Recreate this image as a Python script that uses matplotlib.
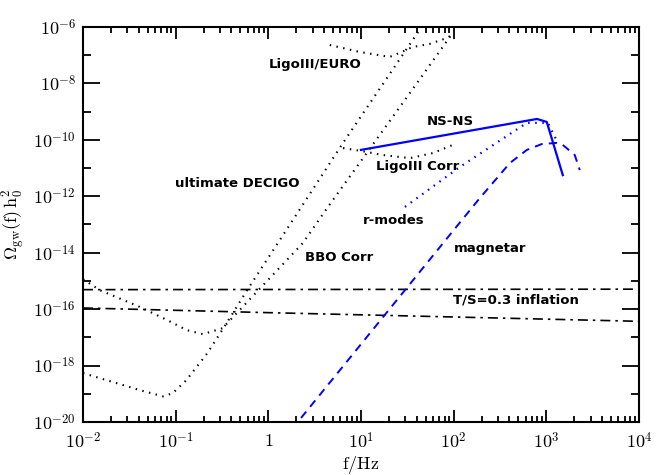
import numpy as np
import matplotlib
matplotlib.use('Agg')
import matplotlib.pyplot as plt
from matplotlib.ticker import FixedLocator, FixedFormatter, LogLocator, NullFormatter

plt.rcParams['mathtext.fontset'] = 'cm'

# ultimate DECIGO sensitivity
decigo_f = [0.01, 0.025, 0.041, 0.073, 0.093, 0.13, 0.22, 0.355, 0.59, 1.33, 6.4, 45]
decigo_om = [5.4e-19, 2.2e-19, 1.35e-19, 8.1e-20, 1.05e-19, 3.0e-19, 2.75e-18,
             3.2e-17, 4.7e-16, 2.8e-14, 7.8e-11, 1e-6]

# BBO Corr
bbo_f = [0.01, 0.0152, 0.041, 0.081, 0.132, 0.197, 0.32, 0.68, 2.36, 4.4, 29.8, 98]
bbo_om = [1.15e-15, 4.7e-16, 1.2e-16, 4.1e-17, 1.8e-17, 1.3e-17, 2.1e-17,
          2.9e-16, 2.2e-14, 4.2e-13, 2.6e-9, 6.2e-7]

# LigoIII/EURO
euro_f = [4.6, 9.7, 20.4, 27.5, 36, 55, 85, 98]
euro_om = [2.3e-7, 1.3e-7, 8.7e-8, 1.3e-7, 1.95e-7, 2.5e-7, 4.1e-7, 5.6e-7]

# LigoIII Corr
ligo_f = [6.4, 10.2, 17.2, 33.6, 59.7, 98]
ligo_om = [5.1e-11, 4.0e-11, 2.9e-11, 2.24e-11, 3.4e-11, 6.6e-11]

# NS-NS
nsns_f = [10, 794, 1012, 1507]
nsns_om = [4.4e-11, 5.5e-10, 4.3e-10, 5.6e-12]

# r-modes
rmod_f = [29.8, 117, 617, 1040, 1330]
rmod_om = [4.2e-13, 1.1e-11, 4.0e-10, 4.0e-10, 7.8e-11]

# magnetar
mag_f = [1.8, 29.8, 86.5, 192, 404, 617, 895, 1297, 1507, 2028, 2296]
mag_om = [5.6e-21, 4.7e-16, 3.5e-14, 8.7e-13, 1.5e-11, 4.4e-11, 7.1e-11,
          7.8e-11, 6.6e-11, 2.9e-11, 8.5e-12]

# T/S=0.3 inflation
infl_hi_f = [0.01, 1e4]
infl_hi_om = [4.9e-16, 5.1e-16]
infl_lo_f = [0.01, 1, 1e4]
infl_lo_om = [1.1e-16, 7.5e-17, 3.7e-17]

fig = plt.figure(figsize=(6.64, 4.75), dpi=100)
ax = fig.add_axes([0.125, 0.1116, 0.8373, 0.8316])

dot = (0, (0.7, 2.6))
for f, om in [(decigo_f, decigo_om), (bbo_f, bbo_om), (euro_f, euro_om), (ligo_f, ligo_om)]:
    ax.plot(f, om, color='black', lw=1.5, ls=dot)

dashdot = (0, (6, 3, 1.5, 3))
ax.plot(infl_hi_f, infl_hi_om, color='black', lw=1.2, ls=dashdot)
ax.plot(infl_lo_f, infl_lo_om, color='black', lw=1.2, ls=dashdot)

ax.plot(nsns_f, nsns_om, color='#0000ff', lw=1.6)
ax.plot(rmod_f, rmod_om, color='#0000ff', lw=1.6, ls=(0, (0.7, 2.5)))
ax.plot(mag_f, mag_om, color='#0000ff', lw=1.4, ls=(0, (4.2, 3.2)))

ax.set_xscale('log')
ax.set_yscale('log')
ax.set_xlim(1e-2, 1e4)
ax.set_ylim(1e-20, 1e-6)

xt = [1e-2, 1e-1, 1, 1e1, 1e2, 1e3, 1e4]
xl = [r'$10^{-2}$', r'$10^{-1}$', r'$1$', r'$10^{1}$', r'$10^{2}$', r'$10^{3}$', r'$10^{4}$']
ax.xaxis.set_major_locator(FixedLocator(xt))
ax.xaxis.set_major_formatter(FixedFormatter(xl))
ax.xaxis.set_minor_locator(LogLocator(base=10, subs=np.arange(2, 10), numticks=20))
ax.xaxis.set_minor_formatter(NullFormatter())

yt = [10.0 ** e for e in range(-20, -5, 2)]
yl = [r'$10^{%d}$' % e for e in range(-20, -5, 2)]
ax.yaxis.set_major_locator(FixedLocator(yt))
ax.yaxis.set_major_formatter(FixedFormatter(yl))
ax.yaxis.set_minor_locator(FixedLocator([10.0 ** e for e in range(-19, -6, 2)]))
ax.yaxis.set_minor_formatter(NullFormatter())

ax.tick_params(axis='both', which='both', direction='in', top=True, right=True,
               width=1.3, labelsize=13)
ax.tick_params(axis='x', which='major', length=8.6, pad=7)
ax.tick_params(axis='x', which='minor', length=4.3)
ax.tick_params(axis='y', which='major', length=12.2, pad=5)
ax.tick_params(axis='y', which='minor', length=5.8)
for s in ax.spines.values():
    s.set_linewidth(1.5)

ax.set_xlabel(r'${\rm f/Hz}$', fontsize=13, labelpad=1)
ax.set_ylabel(r'$\Omega_{\rm gw}({\rm f})\,{\rm h}_0^2$', fontsize=13, labelpad=4)

lab = dict(fontsize=9.5, fontweight='bold', ha='center', va='center')
ax.text(3.2, 4.5e-8, 'LigoIII/EURO', **lab)
ax.text(91, 4.3e-10, 'NS-NS', **lab)
ax.text(41, 1.1e-11, 'LigoIII Corr', **lab)
ax.text(0.46, 2.9e-12, 'ultimate DECIGO', **lab)
ax.text(22.6, 1.4e-13, 'r-modes', **lab)
ax.text(5.8, 6.9e-15, 'BBO Corr', **lab)
ax.text(245, 1.45e-14, 'magnetar', **lab)
ax.text(468, 2.1e-16, 'T/S=0.3 inflation', **lab)

plt.savefig('out.png', dpi=100)
